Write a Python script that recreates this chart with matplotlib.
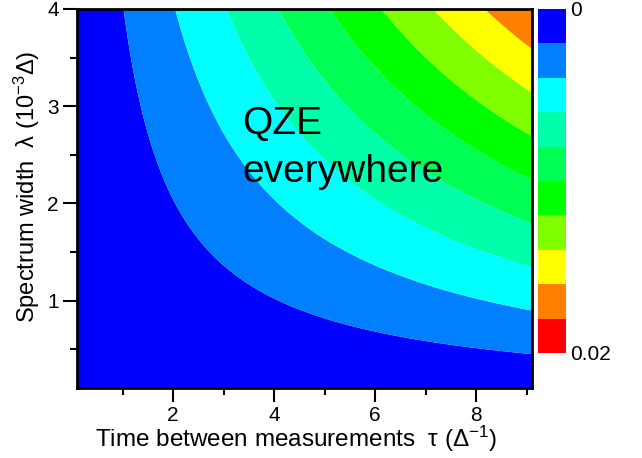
import numpy as np
import matplotlib
matplotlib.use("Agg")
import matplotlib.pyplot as plt
from matplotlib.colors import ListedColormap, BoundaryNorm

plt.rcParams['font.family'] = ['Liberation Sans', 'DejaVu Sans']
plt.rcParams['mathtext.default'] = 'regular'

# ---- data ----
tau_range = [0.1, 9.1]          # time between measurements (1/Delta)
lam_range = [0.1, 4.0]          # spectrum width (1e-3 Delta)
rate_coeff = 0.00049            # contour value per unit (lambda*tau)
levels = [0.0, 0.002, 0.004, 0.006, 0.008, 0.010, 0.012, 0.014, 0.016, 0.018, 0.020]
level_colors = ['#0000FF', '#0080FF', '#00FFFF', '#00FFAA', '#00FF55',
                '#00FF00', '#80FF00', '#FFFF00', '#FF8000', '#FF0000']
x_ticks = [2, 4, 6, 8]
y_ticks = [1, 2, 3, 4]
cbar_labels = ['0', '0.02']

tau = np.linspace(tau_range[0], tau_range[1], 500)
lam = np.linspace(lam_range[0], lam_range[1], 500)
T, L = np.meshgrid(tau, lam)
Z = rate_coeff * T * L

W, H = 642, 458
fig = plt.figure(figsize=(W / 100, H / 100), dpi=100)
ax = fig.add_axes([77 / W, 1 - 388 / H, 455 / W, 379 / H])

cmap = ListedColormap(level_colors)
norm = BoundaryNorm(levels, cmap.N)
cf = ax.contourf(T, L, Z, levels=levels, cmap=cmap, norm=norm, antialiased=True)

ax.set_xlim(tau_range)
ax.set_ylim(lam_range)
ax.set_xticks(x_ticks)
ax.set_yticks(y_ticks)
ax.set_xticks([1, 3, 5, 7, 9], minor=True)
ax.set_yticks([0.5, 1.5, 2.5, 3.5], minor=True)
ax.tick_params(which='major', direction='out', length=10, width=1.5, labelsize=15, pad=3)
ax.tick_params(which='minor', direction='out', length=5, width=1.5)
for s in ax.spines.values():
    s.set_linewidth(2)

ax.set_xlabel('Time between measurements  τ (Δ$^{-1}$)', fontsize=17.5)
ax.xaxis.set_label_coords(0.481, -0.095)
ax.set_ylabel('Spectrum width  λ (10$^{-3}$Δ)', fontsize=17)
ax.yaxis.set_label_coords(-0.078, 0.53)

ax.text(3.37, 2.71, 'QZE', fontsize=28, ha='left', va='baseline')
ax.text(3.37, 2.22, 'everywhere', fontsize=28, ha='left', va='baseline')

cax = fig.add_axes([538 / W, 1 - 353 / H, 28 / W, 344 / H])
cb = fig.colorbar(cf, cax=cax)
cax.set_ylim(0.02, 0.0)
cb.set_ticks([0.0, 0.02])
cb.set_ticklabels(cbar_labels)
cax.minorticks_off()
cb.outline.set_visible(False)
cax.tick_params(length=0, labelsize=15, pad=3)

fig.savefig('out.png', dpi=100)
